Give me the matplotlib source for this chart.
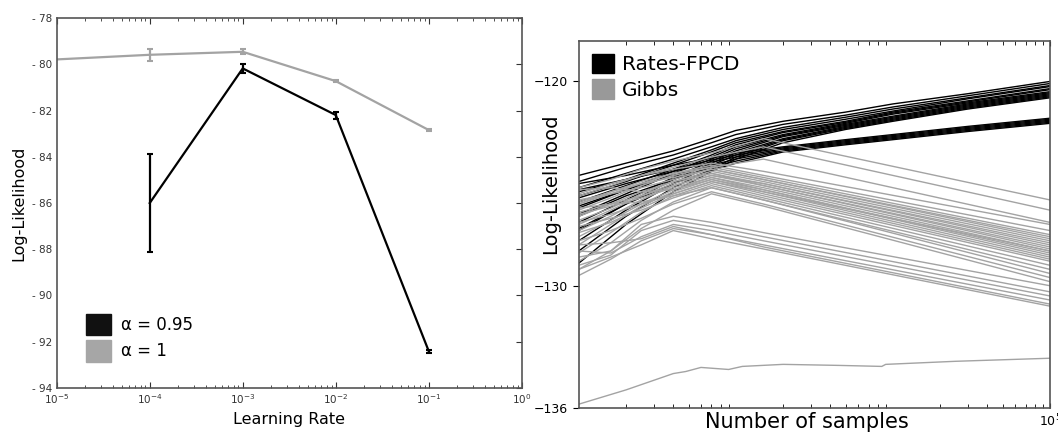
import numpy as np
import matplotlib
matplotlib.use("Agg")
import matplotlib.pyplot as plt
from matplotlib.patches import Patch
from matplotlib.ticker import LogLocator, FixedLocator, FuncFormatter, NullFormatter

# ---- left panel: log-likelihood vs learning rate ----
rates = [1e-4, 1e-3, 1e-2, 1e-1]
ll_095 = [-86.0, -80.17, -82.19, -92.42]
err_095 = [2.12, 0.2, 0.15, 0.07]

rates_1 = [1e-5, 1e-4, 1e-3, 1e-2, 1e-1]
ll_1 = [-79.78, -79.58, -79.45, -80.72, -82.84]
err_1 = [0.0, 0.25, 0.1, 0.03, 0.03]

# ---- right panel: log-likelihood vs number of samples ----
fpcd_x = [100, 200, 400, 700, 1000, 2000, 5000, 10000, 30000, 100000]
fpcd_runs = [
    [-124.6, -124.0, -123.4, -122.8, -122.4, -121.95, -121.5, -121.1, -120.6, -120.0],
    [-124.9, -124.2, -123.6, -123.0, -122.6, -122.1, -121.65, -121.25, -120.7, -120.1],
    [-125.2, -124.5, -123.8, -123.2, -122.8, -122.25, -121.75, -121.35, -120.8, -120.2],
    [-125.4, -124.8, -124.0, -123.35, -122.9, -122.35, -121.85, -121.45, -120.85, -120.25],
    [-125.6, -124.9, -124.1, -123.45, -123.0, -122.45, -121.95, -121.5, -120.95, -120.35],
    [-125.9, -125.1, -124.3, -123.6, -123.1, -122.5, -122.0, -121.55, -121.0, -120.4],
    [-126.2, -125.3, -124.4, -123.7, -123.2, -122.6, -122.05, -121.6, -121.05, -120.5],
    [-126.5, -125.5, -124.5, -123.8, -123.3, -122.65, -122.1, -121.7, -121.1, -120.55],
    [-126.9, -125.8, -124.7, -123.9, -123.4, -122.7, -122.15, -121.75, -121.15, -120.6],
    [-127.3, -126.0, -124.8, -124.0, -123.5, -122.8, -122.2, -121.8, -121.2, -120.65],
    [-127.8, -126.3, -125.0, -124.1, -123.6, -122.85, -122.25, -121.85, -121.25, -120.7],
    [-128.3, -126.6, -125.2, -124.3, -123.7, -122.9, -122.3, -121.9, -121.3, -120.75],
    [-128.9, -127.0, -125.4, -124.4, -123.8, -123.0, -122.35, -121.95, -121.35, -120.8],
    [-125.0, -124.6, -124.1, -123.75, -123.5, -123.2, -122.85, -122.6, -122.2, -121.8],
    [-125.3, -124.8, -124.3, -123.85, -123.6, -123.25, -122.9, -122.65, -122.25, -121.85],
    [-125.7, -125.0, -124.4, -123.95, -123.7, -123.3, -122.95, -122.7, -122.3, -121.9],
    [-126.1, -125.3, -124.6, -124.1, -123.8, -123.35, -123.0, -122.75, -122.35, -121.95],
    [-126.6, -125.6, -124.8, -124.2, -123.9, -123.4, -123.05, -122.8, -122.4, -122.0],
    [-127.2, -126.0, -125.0, -124.35, -124.0, -123.45, -123.1, -122.85, -122.45, -122.05],
]

gibbs_x = [100, 160, 250, 400, 700, 1500, 100000]
gibbs_runs = [
    [-125.2, -124.8, -124.3, -123.9, -123.5, -122.8, -125.8],
    [-125.6, -125.1, -124.6, -124.2, -123.7, -123.2, -126.3],
    [-126.0, -125.5, -125.0, -124.5, -124.2, -123.8, -126.9],
    [-125.5, -125.0, -124.6, -124.3, -124.0, -124.4, -127.0],
    [-126.0, -125.4, -124.9, -124.5, -124.1, -124.6, -127.3],
    [-126.3, -125.7, -125.1, -124.6, -124.2, -124.7, -127.5],
    [-125.8, -125.5, -125.2, -124.8, -124.3, -124.8, -127.7],
    [-126.6, -126.0, -125.4, -124.9, -124.4, -124.9, -127.8],
    [-127.0, -126.3, -125.6, -125.0, -124.5, -125.0, -127.9],
    [-126.8, -126.2, -125.5, -124.9, -124.5, -125.1, -128.1],
    [-127.3, -126.6, -125.8, -125.1, -124.6, -125.1, -128.2],
    [-126.5, -126.1, -125.7, -125.2, -124.7, -125.2, -128.3],
    [-127.6, -126.8, -126.0, -125.3, -124.7, -125.3, -128.4],
    [-125.3, -125.2, -125.4, -125.3, -124.8, -125.3, -128.5],
    [-128.0, -127.0, -126.1, -125.4, -124.8, -125.4, -128.6],
    [-126.9, -126.5, -126.0, -125.5, -124.9, -125.5, -128.7],
    [-128.4, -127.4, -126.4, -125.6, -125.0, -125.6, -128.8],
    [-127.1, -126.7, -126.3, -125.7, -125.1, -125.7, -129.0],
    [-128.8, -127.9, -126.8, -125.9, -125.2, -125.8, -129.2],
    [-126.2, -126.0, -125.9, -125.6, -125.2, -125.8, -129.4],
    [-127.8, -127.3, -126.7, -126.0, -125.4, -126.0, -129.6],
    [-129.2, -128.3, -127.2, -126.3, -125.5, -126.1, -129.8],
    [-125.9, -125.4, -125.0, -124.7, -124.3, -124.8, -127.6],
    [-126.4, -126.0, -125.6, -125.1, -124.6, -125.0, -128.0],
    [-127.4, -126.9, -126.2, -125.5, -124.9, -125.4, -128.3],
    [-128.6, -128.3, -127.0, -126.6, -126.9, -127.4, -130.0],
    [-129.0, -128.5, -127.3, -126.8, -127.1, -127.6, -130.3],
    [-128.3, -128.4, -127.6, -127.0, -127.3, -127.8, -130.5],
    [-129.5, -128.7, -127.8, -127.2, -127.5, -128.0, -130.7],
    [-128.0, -127.9, -127.7, -127.1, -127.5, -128.1, -130.9],
    [-129.2, -128.6, -128.0, -127.3, -127.7, -128.2, -131.0],
]

gibbs_low_x = [100, 200, 400, 480, 600, 900, 1100, 2000, 4500, 8500, 9000, 25000, 100000]
gibbs_low_y = [-135.8, -135.1, -134.3, -134.2, -134.0, -134.1, -133.95, -133.85,
               -133.9, -133.95, -133.85, -133.7, -133.55]

BLACK = "#000000"
GREY = "#a3a3a3"
SPINE = "#555555"

fig = plt.figure(figsize=(10.58, 4.32), dpi=100)

# left
ax1 = fig.add_axes([0.0536, 0.1025, 0.4396, 0.8551])
ax1.plot(rates_1, ll_1, color=GREY, lw=1.6)
ax1.errorbar(rates_1[1:], ll_1[1:], yerr=err_1[1:], fmt="none", ecolor=GREY,
             elinewidth=1.6, capsize=2.5, capthick=1.5)
ax1.errorbar(rates, ll_095, yerr=err_095, color=BLACK, lw=1.6, capsize=2.5, capthick=1.5)
ax1.set_xscale("log")
ax1.set_xlim(1e-5, 1)
ax1.set_ylim(-94, -78)
ax1.set_yticks(np.arange(-94, -77, 2))
ax1.yaxis.set_major_formatter(FuncFormatter(lambda v, p: "- %d" % abs(v)))
ax1.tick_params(axis="both", which="both", direction="in", top=True, right=True,
                left=False, labelsize=7.5, colors="#333333")
ax1.tick_params(axis="both", which="major", length=4)
ax1.tick_params(axis="both", which="minor", length=2)
ax1.set_xlabel("Learning Rate", fontsize=11.5)
ax1.set_ylabel("Log-Likelihood", fontsize=11.5)
for s in ax1.spines.values():
    s.set_color(SPINE)
    s.set_linewidth(1.2)
ax1.legend(handles=[Patch(color="#111111", label="α = 0.95"),
                    Patch(color="#a6a6a6", label="α = 1")],
           loc="lower left", bbox_to_anchor=(0.03, 0.03), frameon=False,
           fontsize=12, handlelength=1.5, handleheight=1.6, handletextpad=0.6,
           labelspacing=0.3)

# right
ax2 = fig.add_axes([0.547, 0.0549, 0.4454, 0.8511])
for run in fpcd_runs:
    ax2.plot(fpcd_x, run, color=BLACK, lw=1.0)
for run in gibbs_runs:
    ax2.plot(gibbs_x, run, color=GREY, lw=1.0)
ax2.plot(gibbs_low_x, gibbs_low_y, color=GREY, lw=1.0)
ax2.set_xscale("log")
ax2.set_xlim(100, 1e5)
ax2.set_ylim(-136, -118)
ax2.set_yticks([-136, -130, -120])
ax2.xaxis.set_major_locator(FixedLocator([1e5]))
ax2.xaxis.set_minor_locator(LogLocator(base=10, subs=np.arange(2, 10)))
ax2.xaxis.set_minor_formatter(NullFormatter())
ax2.tick_params(axis="x", which="both", direction="in", top=True, labelsize=9)
ax2.tick_params(axis="x", which="minor", length=3)
ax2.tick_params(axis="y", direction="out", length=4, labelsize=9)
ax2.set_xlabel("Number of samples", fontsize=15)
ax2.xaxis.set_label_coords(0.484, -0.01)
ax2.set_ylabel("Log-Likelihood", fontsize=14)
ax2.yaxis.set_label_coords(-0.04, 0.61)
for s in ax2.spines.values():
    s.set_color(SPINE)
    s.set_linewidth(1.2)
ax2.legend(handles=[Patch(color="#000000", label="Rates-FPCD"),
                    Patch(color="#999999", label="Gibbs")],
           loc="upper left", frameon=False, fontsize=14.5,
           handlelength=1.1, handleheight=1.1, handletextpad=0.4,
           labelspacing=0.25, borderaxespad=0.25)

fig.savefig("out.png", dpi=100)
